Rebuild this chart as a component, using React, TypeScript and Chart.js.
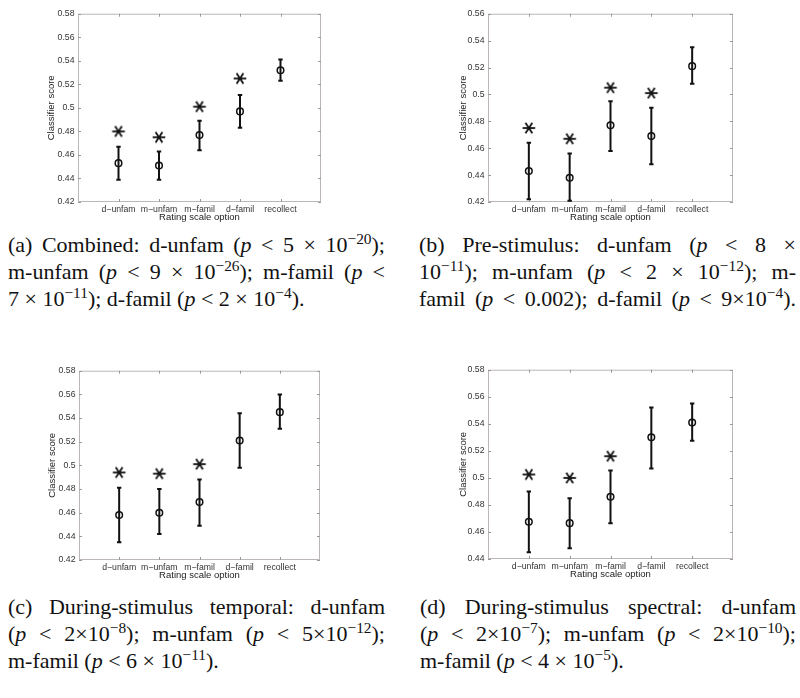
import React, { useEffect, useRef } from 'react';
import { Chart, registerables } from 'chart.js';

Chart.register(...registerables);

// ---------- data ----------
const CATEGORIES = ['d−unfam', 'm−unfam', 'm−famil', 'd−famil', 'recollect'];
const X_TITLE = 'Rating scale option';
const Y_TITLE = 'Classifier score';

// (a) Combined
const A_MEAN = [0.453, 0.451, 0.477, 0.497, 0.532];
const A_LOW = [0.439, 0.439, 0.464, 0.483, 0.523];
const A_HIGH = [0.467, 0.463, 0.489, 0.511, 0.541];
const A_STAR = [0.48, 0.475, 0.501, 0.525, null];
const A_TICKS = [0.42, 0.44, 0.46, 0.48, 0.5, 0.52, 0.54, 0.56, 0.58];

// (b) Pre-stimulus
const B_MEAN = [0.443, 0.438, 0.477, 0.469, 0.521];
const B_LOW = [0.422, 0.421, 0.458, 0.448, 0.508];
const B_HIGH = [0.464, 0.456, 0.495, 0.49, 0.535];
const B_STAR = [0.475, 0.467, 0.505, 0.501, null];
const B_TICKS = [0.42, 0.44, 0.46, 0.48, 0.5, 0.52, 0.54, 0.56];

// (c) During-stimulus temporal
const C_MEAN = [0.458, 0.46, 0.469, 0.521, 0.545];
const C_LOW = [0.435, 0.442, 0.449, 0.498, 0.531];
const C_HIGH = [0.481, 0.48, 0.488, 0.544, 0.56];
const C_STAR = [0.494, 0.493, 0.501, null, null];
const C_TICKS = [0.42, 0.44, 0.46, 0.48, 0.5, 0.52, 0.54, 0.56, 0.58];

// (d) During-stimulus spectral
const D_MEAN = [0.4675, 0.4665, 0.486, 0.53, 0.541];
const D_LOW = [0.445, 0.448, 0.4665, 0.507, 0.5275];
const D_HIGH = [0.49, 0.485, 0.5055, 0.552, 0.555];
const D_STAR = [0.5025, 0.5, 0.516, null, null];
const D_TICKS = [0.44, 0.46, 0.48, 0.5, 0.52, 0.54, 0.56, 0.58];

// ---------- layout ----------
type Area = { l: number; t: number; r: number; b: number };
type Panel = {
  mean: number[]; low: number[]; high: number[]; star: (number | null)[]; ticks: number[];
  area: Area; yTitleX: number;
};

const PANELS: Panel[] = [
  { mean: A_MEAN, low: A_LOW, high: A_HIGH, star: A_STAR, ticks: A_TICKS, area: { l: 78, t: 13, r: 321, b: 202 }, yTitleX: 51 },
  { mean: B_MEAN, low: B_LOW, high: B_HIGH, star: B_STAR, ticks: B_TICKS, area: { l: 488, t: 13, r: 733, b: 202 }, yTitleX: 463 },
  { mean: C_MEAN, low: C_LOW, high: C_HIGH, star: C_STAR, ticks: C_TICKS, area: { l: 79, t: 370, r: 320, b: 560 }, yTitleX: 52 },
  { mean: D_MEAN, low: D_LOW, high: D_HIGH, star: D_STAR, ticks: D_TICKS, area: { l: 488, t: 369, r: 733, b: 559 }, yTitleX: 463 },
];

const Y_AXIS_W = 48;
const X_AXIS_H = 24;
const PAD_T = 8;
const PAD_R = 8;
const SANS = "'Liberation Sans', Arial, Helvetica, sans-serif";
const TICK_FONT = { family: SANS, size: 8.7 };
const TITLE_FONT = { family: SANS, size: 9.5 };

function makeStar(): HTMLCanvasElement {
  const c = document.createElement('canvas');
  c.width = 16;
  c.height = 16;
  const ctx = c.getContext('2d')!;
  ctx.strokeStyle = '#111';
  ctx.lineWidth = 1.8;
  ctx.lineCap = 'butt';
  const r = 6.3;
  [0, 57, 123].forEach((deg) => {
    const a = (deg * Math.PI) / 180;
    ctx.beginPath();
    ctx.moveTo(8 - r * Math.cos(a), 8 - r * Math.sin(a));
    ctx.lineTo(8 + r * Math.cos(a), 8 + r * Math.sin(a));
    ctx.stroke();
  });
  return c;
}

const framePlugin = {
  id: 'matlabFrame',
  beforeDatasetsDraw(chart: any) {
    const { ctx, chartArea: ca, scales } = chart;
    const x = scales.x;
    const y = scales.y;
    ctx.save();
    ctx.strokeStyle = '#bdb6b6';
    ctx.lineWidth = 1;
    ctx.strokeRect(ca.left + 0.5, ca.top + 0.5, ca.right - ca.left - 1, ca.bottom - ca.top - 1);
    ctx.strokeStyle = '#999';
    const seg = (x1: number, y1: number, x2: number, y2: number) => {
      ctx.beginPath();
      ctx.moveTo(x1, y1);
      ctx.lineTo(x2, y2);
      ctx.stroke();
    };
    y.ticks.forEach((t: any) => {
      const py = Math.round(y.getPixelForValue(t.value)) + 0.5;
      seg(ca.left, py, ca.left + 3, py);
      seg(ca.right - 3, py, ca.right, py);
    });
    x.ticks.forEach((t: any) => {
      const px = Math.round(x.getPixelForValue(t.value)) + 0.5;
      seg(px, ca.bottom, px, ca.bottom - 3);
      seg(px, ca.top, px, ca.top + 3);
    });
    ctx.restore();
  },
};

function PanelChart({ p }: { p: Panel }) {
  const ref = useRef<HTMLCanvasElement>(null);
  const w = p.area.r - p.area.l + Y_AXIS_W + PAD_R;
  const h = p.area.b - p.area.t + PAD_T + X_AXIS_H;
  const left = p.area.l - Y_AXIS_W;
  const top = p.area.t - PAD_T;

  useEffect(() => {
    const star = makeStar();
    const errData: any[] = [];
    CATEGORIES.forEach((_, i) => {
      errData.push({ x: i + 1, y: p.low[i] });
      errData.push({ x: i + 1, y: p.high[i] });
      errData.push({ x: i + 1, y: null });
    });
    const meanData = p.mean.map((v, i) => ({ x: i + 1, y: v }));
    const starData = p.star
      .map((v, i) => (v == null ? null : { x: i + 1, y: v }))
      .filter((d) => d !== null);
    const yTitlePad = p.yTitleX - left - TITLE_FONT.size * 0.6;

    const chart = new Chart(ref.current!, {
      type: 'scatter',
      data: {
        datasets: [
          {
            data: errData,
            showLine: true,
            spanGaps: false,
            borderColor: '#111',
            borderWidth: 2,
            pointStyle: 'line',
            pointRadius: 2.2,
            pointBorderWidth: 2,
            pointBorderColor: '#111',
            pointBackgroundColor: '#111',
          } as any,
          {
            data: meanData,
            pointStyle: 'circle',
            pointRadius: 3.3,
            pointBorderWidth: 1.5,
            pointBorderColor: '#111',
            pointBackgroundColor: 'rgba(0,0,0,0)',
          } as any,
          {
            data: starData,
            pointStyle: star,
            pointRadius: 7,
          } as any,
        ],
      },
      options: {
        responsive: false,
        animation: false,
        events: [],
        layout: { padding: { top: PAD_T, right: PAD_R, left: 0, bottom: 0 } },
        plugins: { legend: { display: false }, tooltip: { enabled: false } },
        scales: {
          x: {
            type: 'linear',
            min: 0,
            max: 6,
            afterBuildTicks: (s: any) => {
              s.ticks = CATEGORIES.map((_, i) => ({ value: i + 1 }));
            },
            afterFit: (s: any) => {
              s.height = X_AXIS_H;
            },
            ticks: {
              autoSkip: false,
              maxRotation: 0,
              minRotation: 0,
              padding: 2,
              color: '#333',
              font: TICK_FONT,
              callback: (v: any) => CATEGORIES[Number(v) - 1] ?? '',
            },
            grid: { display: false, drawTicks: false },
            border: { display: false },
            title: { display: true, text: X_TITLE, color: '#222', font: TITLE_FONT, padding: { top: 0, bottom: 3 } },
          },
          y: {
            type: 'linear',
            min: p.ticks[0],
            max: p.ticks[p.ticks.length - 1],
            afterBuildTicks: (s: any) => {
              s.ticks = p.ticks.map((v) => ({ value: v }));
            },
            afterFit: (s: any) => {
              s.width = Y_AXIS_W;
            },
            ticks: {
              padding: 3.5,
              color: '#333',
              font: TICK_FONT,
              callback: (v: any) => String(Math.round(Number(v) * 100) / 100),
            },
            grid: { display: false, drawTicks: false },
            border: { display: false },
            title: { display: true, text: Y_TITLE, color: '#222', font: TITLE_FONT, padding: { top: yTitlePad, bottom: 0 } },
          },
        },
      } as any,
      plugins: [framePlugin],
    });
    return () => chart.destroy();
  }, []);

  return (
    <canvas
      ref={ref}
      width={w}
      height={h}
      style={{ position: 'absolute', left, top, width: w, height: h }}
    />
  );
}

// ---------- captions ----------
const SERIF = "'Liberation Serif', 'Times New Roman', serif";
const Sup = ({ children }: { children: React.ReactNode }) => (
  <sup style={{ fontSize: '70%', lineHeight: 0, verticalAlign: '0.55em' }}>{children}</sup>
);
const P = () => <i>p</i>;

function Line({ children, justify }: { children: React.ReactNode; justify: boolean }) {
  return (
    <div
      style={{
        height: 27,
        lineHeight: '27px',
        textAlign: justify ? 'justify' : 'left',
        textAlignLast: justify ? 'justify' : 'left',
        whiteSpace: 'normal',
        overflow: 'visible',
      }}
    >
      {children}
    </div>
  );
}

function Caption({ left, top, width, lines }: { left: number; top: number; width: number; lines: [React.ReactNode, boolean][] }) {
  return (
    <div
      style={{
        position: 'absolute',
        left,
        top,
        width,
        fontFamily: SERIF,
        fontSize: 22,
        color: '#111',
      }}
    >
      {lines.map(([c, j], i) => (
        <Line key={i} justify={j}>
          {c}
        </Line>
      ))}
    </div>
  );
}

export default function App() {
  return (
    <div style={{ position: 'absolute', left: 0, top: 0, width: 800, height: 698, background: '#fff', overflow: 'hidden' }}>
      {PANELS.map((p, i) => (
        <PanelChart key={i} p={p} />
      ))}
      <Caption
        left={8}
        top={231}
        width={377}
        lines={[
          [<>(a) Combined: d-unfam (<P /> &lt; 5 × 10<Sup>−20</Sup>);</>, true],
          [<>m-unfam (<P /> &lt; 9 × 10<Sup>−26</Sup>); m-famil (<P /> &lt;</>, true],
          [<>7 × 10<Sup>−11</Sup>); d-famil (<P /> &lt; 2 × 10<Sup>−4</Sup>).</>, false],
        ]}
      />
      <Caption
        left={419}
        top={231}
        width={377}
        lines={[
          [<>(b) Pre-stimulus: d-unfam (<P /> &lt; 8 ×</>, true],
          [<>10<Sup>−11</Sup>); m-unfam (<P /> &lt; 2 × 10<Sup>−12</Sup>); m-</>, true],
          [<>famil (<P /> &lt; 0.002); d-famil (<P /> &lt; 9×10<Sup>−4</Sup>).</>, true],
        ]}
      />
      <Caption
        left={8}
        top={593}
        width={377}
        lines={[
          [<>(c) During-stimulus temporal: d-unfam</>, true],
          [<>(<P /> &lt; 2×10<Sup>−8</Sup>); m-unfam (<P /> &lt; 5×10<Sup>−12</Sup>);</>, true],
          [<>m-famil (<P /> &lt; 6 × 10<Sup>−11</Sup>).</>, false],
        ]}
      />
      <Caption
        left={420}
        top={593}
        width={376}
        lines={[
          [<>(d) During-stimulus spectral: d-unfam</>, true],
          [<>(<P /> &lt; 2×10<Sup>−7</Sup>); m-unfam (<P /> &lt; 2×10<Sup>−10</Sup>);</>, true],
          [<>m-famil (<P /> &lt; 4 × 10<Sup>−5</Sup>).</>, false],
        ]}
      />
    </div>
  );
}
